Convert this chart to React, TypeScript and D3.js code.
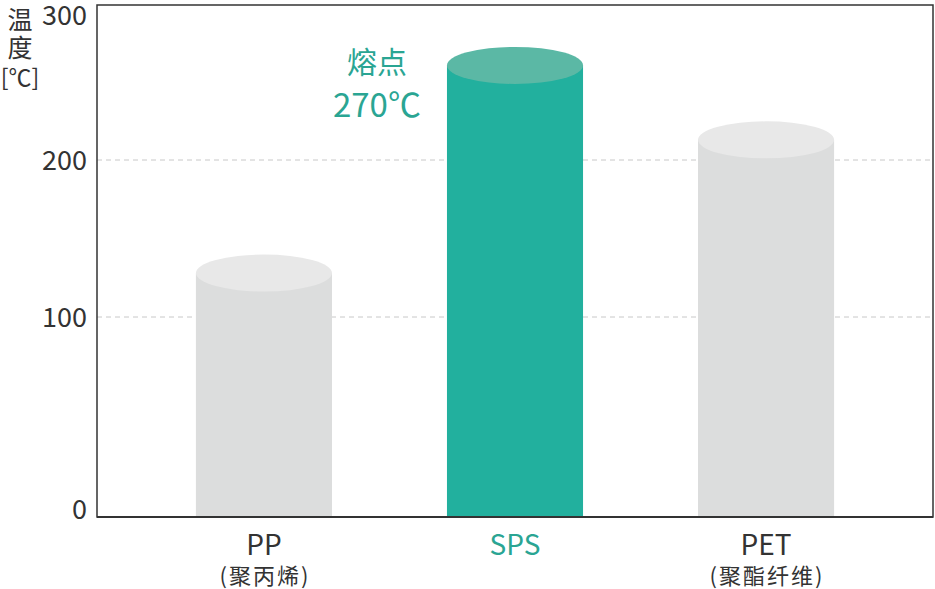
import * as d3 from 'd3';
import { useEffect, useRef } from 'react';

const categories = ['PP', 'SPS', 'PET'];
const subLabels = ['(聚丙烯)', '', '(聚酯纤维)'];
const meltingPoints = [128, 261, 213];
const highlight = 'SPS';
const yTicks = [0, 100, 200, 300];
const calloutLines = ['熔点', '270℃'];

const FONT = '"Noto Sans CJK SC", "Noto Sans", sans-serif';
const TEAL = '#22b09e';
const TEAL_TOP = '#5bb8a5';
const TEAL_TEXT = '#2aa593';
const GREY = '#dcdddd';
const GREY_TOP = '#e8e8e8';
const INK = '#333333';

export default function App() {
  const svgRef = useRef<SVGSVGElement | null>(null);
  const width = 935;
  const height = 589;

  useEffect(() => {
    const svg = d3.select(svgRef.current);
    svg.selectAll('*').remove();

    const left = 97;
    const right = 933;
    const top = 5;
    const bottom = 517;

    // the original uses uneven spacing between ticks, so a polylinear scale
    const y = d3.scaleLinear().domain(yTicks).range([bottom, 317, 160, top]);
    const x = d3.scaleBand<string>()
      .domain(categories)
      .range([left, right])
      .paddingInner(0.458)
      .paddingOuter(0.394);

    const ry = 18.5;

    // gridlines
    svg.append('g')
      .selectAll('line')
      .data([100, 200])
      .enter()
      .append('line')
      .attr('x1', left)
      .attr('x2', right)
      .attr('y1', (d) => y(d))
      .attr('y2', (d) => y(d))
      .attr('stroke', '#c8c8c8')
      .attr('stroke-width', 1)
      .attr('stroke-dasharray', '5,4');

    // cylinders
    const bars = svg.append('g')
      .selectAll('g')
      .data(categories.map((c, i) => ({ c, v: meltingPoints[i] })))
      .enter()
      .append('g');

    bars.append('rect')
      .attr('x', (d) => x(d.c) as number)
      .attr('y', (d) => y(d.v))
      .attr('width', x.bandwidth())
      .attr('height', (d) => bottom - y(d.v))
      .attr('fill', (d) => (d.c === highlight ? TEAL : GREY));

    bars.append('ellipse')
      .attr('cx', (d) => (x(d.c) as number) + x.bandwidth() / 2)
      .attr('cy', (d) => y(d.v))
      .attr('rx', x.bandwidth() / 2)
      .attr('ry', ry)
      .attr('fill', (d) => (d.c === highlight ? TEAL_TOP : GREY_TOP));

    // frame
    svg.append('rect')
      .attr('x', left)
      .attr('y', top)
      .attr('width', right - left)
      .attr('height', bottom - top)
      .attr('fill', 'none')
      .attr('stroke', INK)
      .attr('stroke-width', 1.5);
    svg.append('line')
      .attr('x1', left)
      .attr('x2', right)
      .attr('y1', bottom)
      .attr('y2', bottom)
      .attr('stroke', INK)
      .attr('stroke-width', 2);

    // y tick labels
    svg.append('g')
      .selectAll('text')
      .data(yTicks)
      .enter()
      .append('text')
      .attr('x', 87)
      .attr('y', (d) => (d === 300 ? y(d) + 10 : d === 0 ? y(d) - 8 : y(d)))
      .attr('dy', '0.36em')
      .attr('text-anchor', 'end')
      .attr('font-family', FONT)
      .attr('font-size', 27)
      .attr('fill', INK)
      .text((d) => d);

    // y axis title
    const title = svg.append('g')
      .attr('font-family', FONT)
      .attr('fill', INK)
      .attr('text-anchor', 'middle');
    title.append('text').attr('x', 20).attr('y', 29).attr('font-size', 25).text('温');
    title.append('text').attr('x', 20).attr('y', 57).attr('font-size', 25).text('度');
    title.append('text').attr('x', 20).attr('y', 86).attr('font-size', 23).text('[℃]');

    // category labels
    const xl = svg.append('g')
      .attr('font-family', FONT)
      .attr('text-anchor', 'middle');
    xl.selectAll('.main')
      .data(categories)
      .enter()
      .append('text')
      .attr('class', 'main')
      .attr('x', (d) => (x(d) as number) + x.bandwidth() / 2)
      .attr('y', 555)
      .attr('font-size', 28)
      .attr('fill', (d) => (d === highlight ? TEAL_TEXT : INK))
      .text((d) => d);
    xl.selectAll('.sub')
      .data(categories)
      .enter()
      .append('text')
      .attr('class', 'sub')
      .attr('x', (d) => (x(d) as number) + x.bandwidth() / 2 + 1)
      .attr('y', 584)
      .attr('font-size', 22)
      .attr('letter-spacing', 2)
      .attr('fill', INK)
      .text((d, i) => subLabels[i]);

    // callout next to the highlighted bar
    const hx = (x(highlight) as number) - 70;
    const call = svg.append('g')
      .attr('font-family', FONT)
      .attr('text-anchor', 'middle')
      .attr('fill', TEAL_TEXT);
    call.append('text').attr('x', hx).attr('y', 73).attr('font-size', 30).text(calloutLines[0]);
    call.append('text').attr('x', hx).attr('y', 117).attr('font-size', 33).text(calloutLines[1]);
  }, []);

  return (
    <svg
      ref={svgRef}
      width={width}
      height={height}
      style={{ position: 'absolute', left: 0, top: 0, background: '#fff' }}
    />
  );
}
